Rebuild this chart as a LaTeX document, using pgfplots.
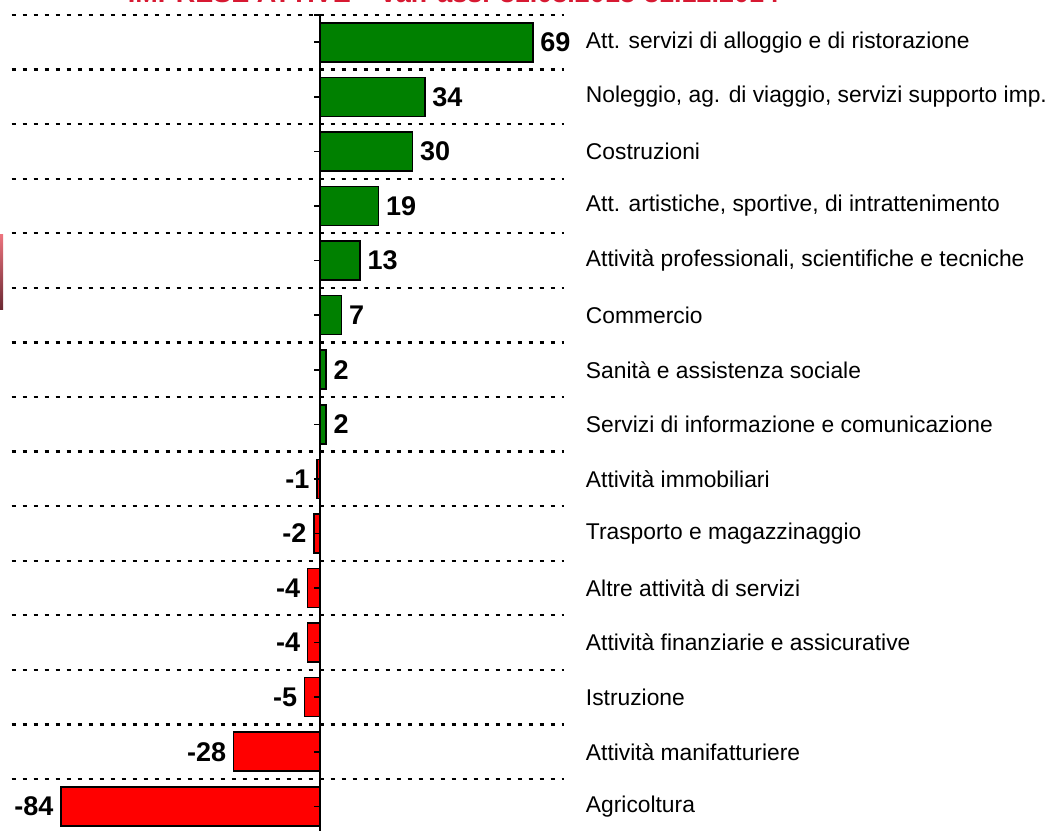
\documentclass[border=0pt]{standalone}
\usepackage{pgfplots}
\pgfplotsset{compat=1.18}
\usepackage{fontspec}
\setmainfont{Liberation Sans}
\definecolor{barpos}{RGB}{0,128,0}
\definecolor{barneg}{RGB}{255,0,0}
\definecolor{titlered}{RGB}{215,25,50}
\begin{document}
\begin{tikzpicture}
% the reference is a crop: keep the same window
\useasboundingbox (-5.75pt,1.8pt) rectangle (520.25pt,416.8pt);
\begin{axis}[
    at={(0,0)}, anchor=south west,
    scale only axis,
    width=276.1pt, height=409.3pt,
    xmin=-100, xmax=79, ymin=-0.5, ymax=14.5,
    xbar, bar width=19.5pt, bar shift=0pt,
    axis x line=none,
    axis y line*=right,
    y axis line style={draw=none},
    ytick={0,...,14},
    minor ytick={-0.5,0.5,...,14.5},
    yminorgrids,
    minor y grid style={black, line width=1.1pt, dash pattern=on 2.2pt off 3.3pt},
    major tick length=0pt, minor tick length=0pt,
    yticklabels={Agricoltura, Attività manifatturiere, Istruzione,
        Attività finanziarie e assicurative, Altre attività di servizi,
        Trasporto e magazzinaggio, Attività immobiliari,
        Servizi di informazione e comunicazione, Sanità e assistenza sociale,
        Commercio, {Attività professionali, scientifiche e tecniche},
        {Att. artistiche, sportive, di intrattenimento}, Costruzioni,
        {Noleggio, ag. di viaggio, servizi supporto imp.},
        Att. servizi di alloggio e di ristorazione},
    y tick label style={font=\fontsize{11.4}{14}\selectfont, xshift=7.6pt},
    point meta=x,
    nodes near coords={\pgfmathprintnumber[assume math mode=true]{\pgfplotspointmeta}},
    nodes near coords style={font=\fontsize{13.5}{16}\selectfont\bfseries},
    clip=false,
]
\addplot[fill=barpos, draw=black, line width=0.8pt] coordinates {
    (2,7) (2,8) (7,9) (13,10) (19,11) (30,12) (34,13) (69,14)};
\addplot[fill=barneg, draw=black, line width=0.8pt] coordinates {
    (-84,0) (-28,1) (-5,2) (-4,3) (-4,4) (-2,5) (-1,6)};
\draw[black, line width=0.9pt] (axis cs:0,14.5) -- (axis cs:0,-0.6);
\pgfplotsinvokeforeach{0,...,14}{\draw[black, line width=0.8pt] (axis cs:0,#1) -- ([xshift=-2.8pt]axis cs:0,#1);}
\draw[black, line width=0.8pt] (axis cs:0,14.5) -- ([xshift=-2.8pt]axis cs:0,14.5);
\end{axis}
\node[anchor=base, font=\fontsize{13.5}{16}\selectfont\bfseries, text=titlered]
    at (221pt,415.6pt) {IMPRESE ATTIVE – var. ass. 31.03.2013-31.12.2014};
\shade[top color={rgb,255:red,235;green,115;blue,125}, bottom color={rgb,255:red,105;green,40;blue,50}]
    (-5.75pt,261.8pt) rectangle (-4.25pt,299.3pt);
\end{tikzpicture}
\end{document}
